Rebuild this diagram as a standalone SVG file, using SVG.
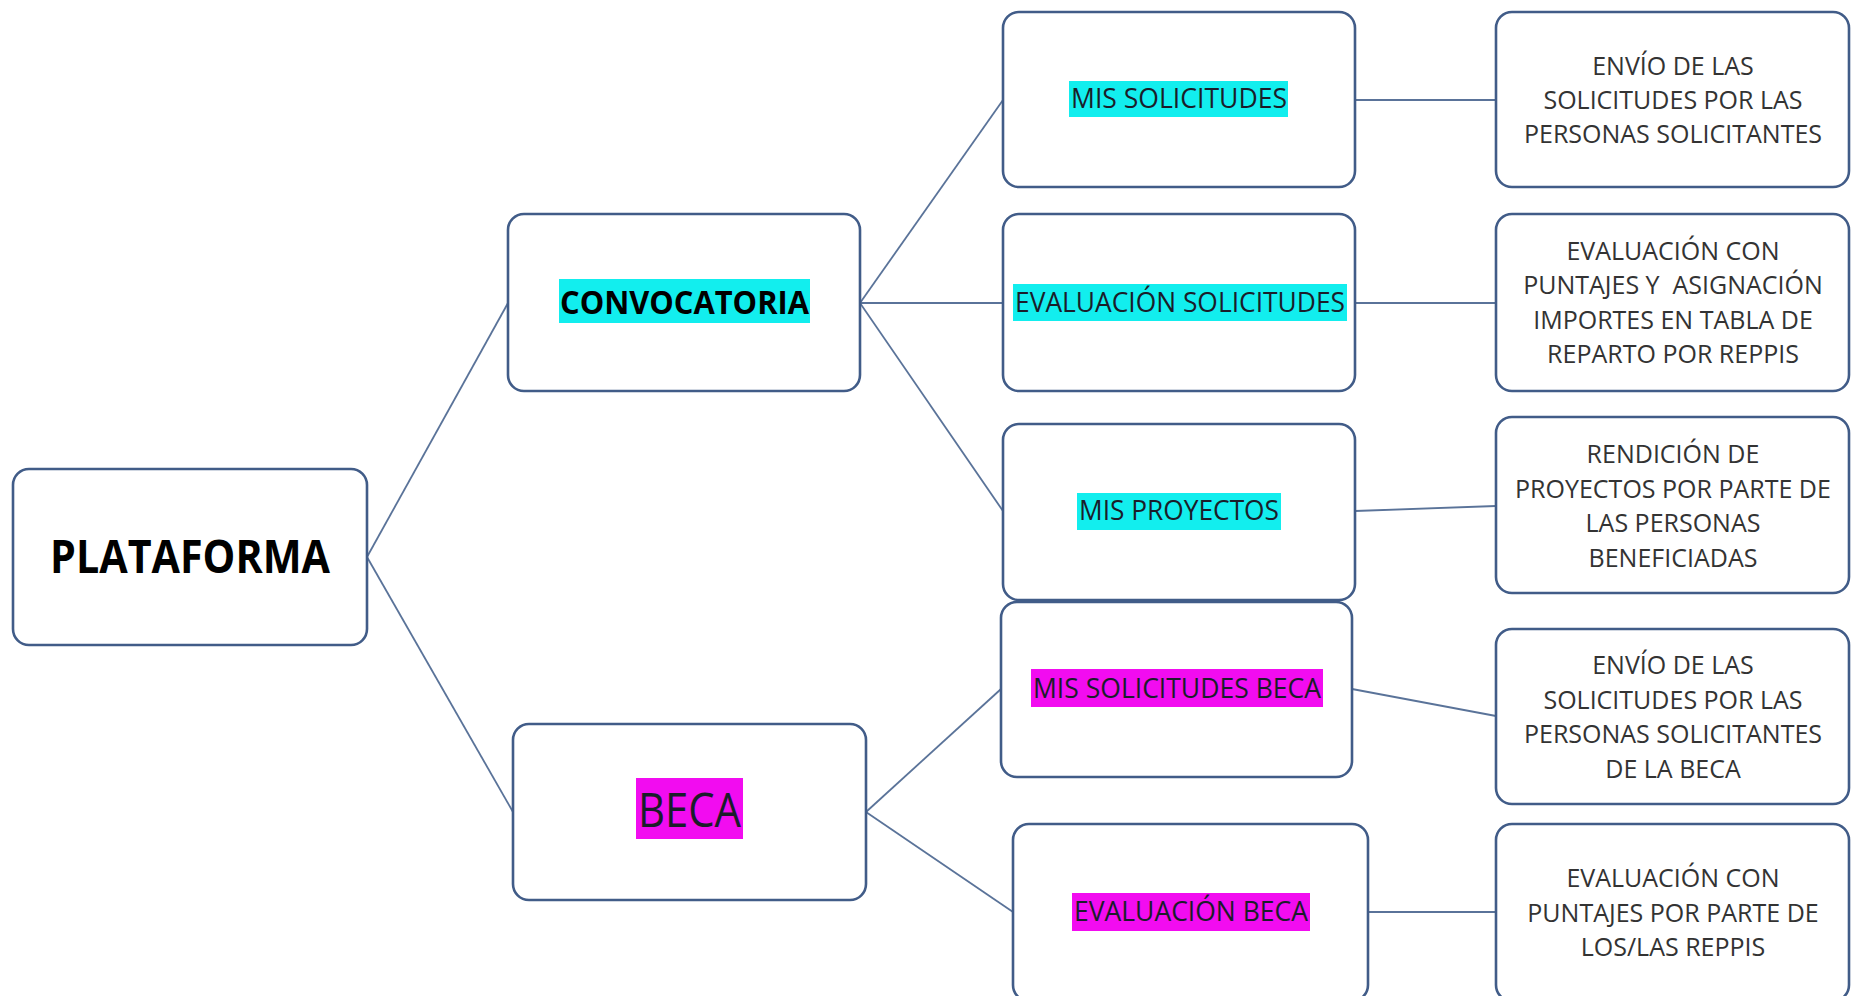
<svg xmlns="http://www.w3.org/2000/svg" width="1857" height="996" viewBox="0 0 1857 996">
<style>
.box{fill:#ffffff;stroke:#415c88;stroke-width:2.6}
.con{stroke:#5a7399;stroke-width:1.8;fill:none}
.lbl{font-family:"Open Sans","Liberation Sans",sans-serif;fill:#1a1d2a;text-anchor:middle}
.desc{font-family:"Open Sans","Liberation Sans",sans-serif;font-size:25px;fill:#333333;text-anchor:middle}
.cy{fill:#12eeee}
.mg{fill:#f20cf0}
</style>
<rect x="0" y="0" width="1857" height="996" fill="#ffffff"/>
<g id="connectors">
<line class="con" x1="367" y1="557" x2="508" y2="303"/>
<line class="con" x1="367" y1="557" x2="513" y2="812"/>
<line class="con" x1="860" y1="303" x2="1003" y2="100"/>
<line class="con" x1="860" y1="303" x2="1003" y2="303"/>
<line class="con" x1="860" y1="303" x2="1003" y2="511"/>
<line class="con" x1="866" y1="812" x2="1001" y2="689"/>
<line class="con" x1="866" y1="812" x2="1013" y2="912"/>
<line class="con" x1="1355" y1="100" x2="1496" y2="100"/>
<line class="con" x1="1355" y1="303" x2="1496" y2="303"/>
<line class="con" x1="1355" y1="511" x2="1496" y2="506"/>
<line class="con" x1="1352" y1="689" x2="1496" y2="716"/>
<line class="con" x1="1367" y1="912" x2="1496" y2="912"/>
</g>
<g id="plataforma">
<rect class="box" x="13" y="469" width="354" height="176" rx="16"/>
<text class="lbl" x="190" y="573" font-size="46" font-weight="bold" fill="#000" textLength="280" lengthAdjust="spacingAndGlyphs" style="fill:#000">PLATAFORMA</text>
</g>
<g id="convocatoria">
<rect class="box" x="508" y="214" width="352" height="177" rx="16"/>
<rect class="cy" x="559" y="279" width="251" height="44"/>
<text class="lbl" x="684.5" y="314" font-size="32" font-weight="bold" textLength="249" lengthAdjust="spacingAndGlyphs" style="fill:#000">CONVOCATORIA</text>
</g>
<g id="beca">
<rect class="box" x="513" y="724" width="353" height="176" rx="16"/>
<rect class="mg" x="636" y="778" width="107" height="61"/>
<text class="lbl" x="689.5" y="827" font-size="48" textLength="103" lengthAdjust="spacingAndGlyphs">BECA</text>
</g>
<g id="mis-solicitudes">
<rect class="box" x="1003" y="12" width="352" height="175" rx="16"/>
<rect class="cy" x="1069" y="81" width="219" height="36"/>
<text class="lbl" x="1179" y="108" font-size="28" textLength="216" lengthAdjust="spacingAndGlyphs">MIS SOLICITUDES</text>
</g>
<g id="evaluacion-solicitudes">
<rect class="box" x="1003" y="214" width="352" height="177" rx="16"/>
<rect class="cy" x="1013" y="284" width="334" height="37"/>
<text class="lbl" x="1180" y="312" font-size="28" textLength="330" lengthAdjust="spacingAndGlyphs">EVALUACIÓN SOLICITUDES</text>
</g>
<g id="mis-proyectos">
<rect class="box" x="1003" y="424" width="352" height="176" rx="16"/>
<rect class="cy" x="1077" y="493" width="204" height="37"/>
<text class="lbl" x="1179" y="520" font-size="28" textLength="200" lengthAdjust="spacingAndGlyphs">MIS PROYECTOS</text>
</g>
<g id="mis-solicitudes-beca">
<rect class="box" x="1001" y="602" width="351" height="175" rx="16"/>
<rect class="mg" x="1031" y="669" width="292" height="38"/>
<text class="lbl" x="1177" y="698" font-size="28" textLength="288" lengthAdjust="spacingAndGlyphs">MIS SOLICITUDES BECA</text>
</g>
<g id="evaluacion-beca">
<rect class="box" x="1013" y="824" width="355" height="177" rx="16"/>
<rect class="mg" x="1072" y="893" width="238" height="38"/>
<text class="lbl" x="1191" y="921" font-size="28" textLength="234" lengthAdjust="spacingAndGlyphs">EVALUACIÓN BECA</text>
</g>
<g id="desc-envio">
<rect class="box" x="1496" y="12" width="353" height="175" rx="16"/>
<text class="desc" x="1673" y="75">ENVÍO DE LAS</text>
<text class="desc" x="1673" y="109">SOLICITUDES POR LAS</text>
<text class="desc" x="1673" y="143">PERSONAS SOLICITANTES</text>
</g>
<g id="desc-evaluacion">
<rect class="box" x="1496" y="214" width="353" height="177" rx="16"/>
<text class="desc" x="1673" y="259.5">EVALUACIÓN CON</text>
<text class="desc" x="1673" y="294" xml:space="preserve">PUNTAJES Y  ASIGNACIÓN</text>
<text class="desc" x="1673" y="328.5">IMPORTES EN TABLA DE</text>
<text class="desc" x="1673" y="363">REPARTO POR REPPIS</text>
</g>
<g id="desc-rendicion">
<rect class="box" x="1496" y="417" width="353" height="176" rx="16"/>
<text class="desc" x="1673" y="463">RENDICIÓN DE</text>
<text class="desc" x="1673" y="497.5">PROYECTOS POR PARTE DE</text>
<text class="desc" x="1673" y="532">LAS PERSONAS</text>
<text class="desc" x="1673" y="566.5">BENEFICIADAS</text>
</g>
<g id="desc-envio-beca">
<rect class="box" x="1496" y="629" width="353" height="175" rx="16"/>
<text class="desc" x="1673" y="674">ENVÍO DE LAS</text>
<text class="desc" x="1673" y="708.5">SOLICITUDES POR LAS</text>
<text class="desc" x="1673" y="743">PERSONAS SOLICITANTES</text>
<text class="desc" x="1673" y="777.5">DE LA BECA</text>
</g>
<g id="desc-evaluacion-beca">
<rect class="box" x="1496" y="824" width="353" height="177" rx="16"/>
<text class="desc" x="1673" y="887">EVALUACIÓN CON</text>
<text class="desc" x="1673" y="921.5">PUNTAJES POR PARTE DE</text>
<text class="desc" x="1673" y="956">LOS/LAS REPPIS</text>
</g>
</svg>
